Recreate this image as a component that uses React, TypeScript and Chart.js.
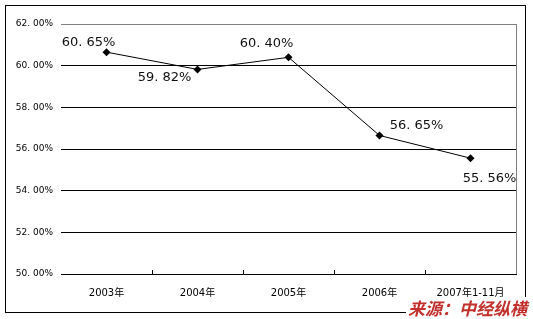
import React, { useEffect, useRef } from "react";
import { Chart, registerables } from "chart.js";

Chart.register(...registerables);

const categories = ["2003年", "2004年", "2005年", "2006年", "2007年1-11月"];
const values = [60.65, 59.82, 60.4, 56.65, 55.56];
const valueLabels = ["60. 65%", "59. 82%", "60. 40%", "56. 65%", "55. 56%"];
const yTickValues = [50, 52, 54, 56, 58, 60, 62];
const yTickLabels = ["50. 00%", "52. 00%", "54. 00%", "56. 00%", "58. 00%", "60. 00%", "62. 00%"];
const sourceText = "来源：中经纵横";

const labelOffsets = [
  [-18, -10],
  [-33, 8],
  [-22, -14],
  [37, -10],
  [19, 20],
];

const decorPlugin = {
  id: "decor",
  afterDraw(chart: any) {
    const ctx = chart.ctx as CanvasRenderingContext2D;
    const area = chart.chartArea;
    const xs = chart.scales.x;
    ctx.save();
    // right gray border of plot
    ctx.strokeStyle = "#808080";
    ctx.lineWidth = 1;
    ctx.beginPath();
    ctx.moveTo(Math.round(area.right) + 0.5, area.top);
    ctx.lineTo(Math.round(area.right) + 0.5, area.bottom);
    ctx.stroke();
    // inside ticks at category boundaries
    ctx.strokeStyle = "#000";
    ctx.beginPath();
    for (let i = 1; i < categories.length; i++) {
      const x = Math.round((xs.getPixelForValue(i - 1) + xs.getPixelForValue(i)) / 2) + 0.5;
      ctx.moveTo(x, area.bottom);
      ctx.lineTo(x, area.bottom - 4);
    }
    ctx.stroke();
    // data labels
    const meta = chart.getDatasetMeta(0);
    ctx.fillStyle = "#111";
    ctx.font = "13px 'DejaVu Sans'";
    ctx.textAlign = "center";
    ctx.textBaseline = "middle";
    meta.data.forEach((pt: any, i: number) => {
      const [dx, dy] = labelOffsets[i];
      ctx.fillText(valueLabels[i], pt.x + dx, pt.y + dy);
    });
    // outer border
    ctx.strokeStyle = "#000";
    ctx.lineWidth = 1;
    ctx.strokeRect(5.5, 5.5, 520, 307);
    // source text
    ctx.font = "italic bold 17px 'Noto Sans CJK SC'";
    ctx.textAlign = "left";
    ctx.textBaseline = "alphabetic";
    const w = ctx.measureText(sourceText).width;
    ctx.fillStyle = "#fff";
    ctx.fillRect(406, 297, w + 6, 22);
    ctx.fillStyle = "#c0302c";
    ctx.fillText(sourceText, 408, 315);
    ctx.restore();
  },
};

export default function App() {
  const ref = useRef<HTMLCanvasElement | null>(null);
  useEffect(() => {
    document.body.style.margin = "0";
    const chart = new Chart(ref.current as HTMLCanvasElement, {
      type: "line",
      data: {
        labels: categories,
        datasets: [
          {
            data: values,
            borderColor: "#000",
            borderWidth: 1,
            backgroundColor: "#000",
            pointStyle: "rectRot",
            pointRadius: 4,
            pointBorderWidth: 0,
            tension: 0,
          },
        ],
      },
      options: {
        animation: false,
        responsive: false,
        devicePixelRatio: 1,
        layout: { padding: { left: 0, top: 24, right: 17, bottom: 0 } },
        plugins: { legend: { display: false }, tooltip: { enabled: false } },
        scales: {
          x: {
            type: "category",
            offset: true,
            grid: { display: false, drawTicks: false },
            border: { display: true, color: "#000", width: 1 },
            ticks: {
              color: "#000",
              padding: 13,
              maxRotation: 0,
              autoSkip: false,
              font: { family: "'DejaVu Sans', 'Noto Sans CJK SC'", size: 10 },
            },
            afterFit: (s: any) => {
              s.height = 45;
            },
          },
          y: {
            min: 50,
            max: 62,
            afterBuildTicks: (s: any) => {
              s.ticks = yTickValues.map((v) => ({ value: v }));
            },
            grid: {
              drawTicks: false,
              color: (c: any) => (c.tick && c.tick.value === 62 ? "#808080" : "#000"),
            },
            border: { display: false },
            ticks: {
              color: "#000",
              padding: 8,
              font: { family: "'DejaVu Sans'", size: 9 },
              callback: (_v: any, i: number) => yTickLabels[i],
            },
            afterFit: (s: any) => {
              s.width = 61;
            },
          },
        },
      },
      plugins: [decorPlugin],
    });
    return () => chart.destroy();
  }, []);
  return (
    <div style={{ width: 533, height: 319, background: "#fff" }}>
      <canvas ref={ref} width={533} height={319} style={{ display: "block" }} />
    </div>
  );
}
